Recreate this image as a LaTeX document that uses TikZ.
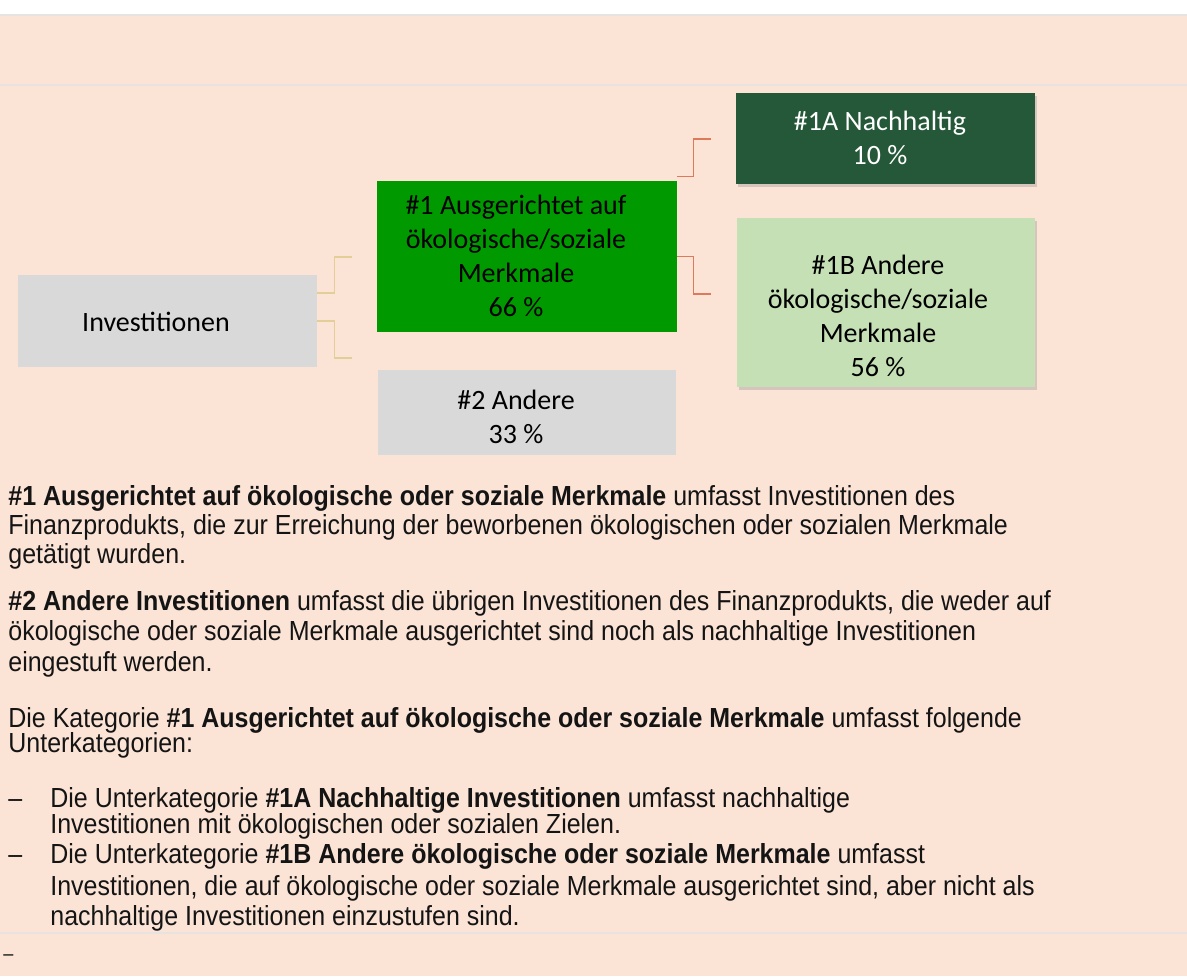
\documentclass[tikz,border=0pt]{standalone}
\usepackage{fontspec}
\setmainfont{Liberation Sans}
\newfontfamily\bodyfont[FakeStretch=0.905]{Liberation Sans}
\newfontfamily\boxfont{Carlito}
\usetikzlibrary{positioning,shadows}

\definecolor{peach}{HTML}{FBE3D6}
\definecolor{sepgray}{HTML}{E6E3E1}
\definecolor{darkgreen}{HTML}{245839}
\definecolor{midgreen}{HTML}{009900}
\definecolor{lightgreen}{HTML}{C5E0B4}
\definecolor{boxgray}{HTML}{D9D9D9}
\definecolor{linkred}{HTML}{DD7A5C}
\definecolor{linktan}{HTML}{E2CF98}
\definecolor{inkblack}{HTML}{141414}

\begin{document}
\begin{tikzpicture}[x=0.5pt,y=-0.5pt,
    box/.style={rectangle,inner sep=0pt,minimum width=150pt},
    shadowbox/.style={box,drop shadow={shadow xshift=1pt,shadow yshift=-1.5pt,opacity=0.3}},
    boxtext/.style={font=\boxfont\fontsize{14}{17}\selectfont,align=center,inner sep=0pt},
    body/.style={font=\bodyfont\fontsize{13.8}{14.5}\selectfont,anchor=base west,inner sep=0pt,text=inkblack},
    tanlink/.style={draw=linktan,line width=0.75pt},
    redlink/.style={draw=linkred,line width=0.75pt},
    sepline/.style={draw=sepgray,line width=1.2pt}]
  \useasboundingbox (0,0) rectangle (1187,976);
  \fill[white] (0,0) rectangle (1187,15);
  \fill[peach] (0,15) rectangle (1187,976);
  \foreach \y in {15,85,933}
    \draw[sepline] (0,\y) -- (1187,\y);

  % boxes
  \node[box,fill=boxgray,minimum width=149.5pt,minimum height=46pt] (inv) at (167.5,321) {};
  \node[box,fill=midgreen,minimum height=75.5pt] (one) at (527,256.5) {};
  \node[box,fill=boxgray,minimum width=149pt,minimum height=42.5pt] (two) at (527,412.5) {};
  \node[shadowbox,fill=darkgreen,minimum width=149.5pt,minimum height=45.5pt] (onea) at (885.5,138.5) {};
  \node[shadowbox,fill=lightgreen,minimum width=149pt,minimum height=84.5pt] (oneb) at (886,302.5) {};

  \node[boxtext] (invtxt) at (156,322) {Investitionen};
  \node[boxtext] (onetxt) at (516,256) {\#1 Ausgerichtet auf\\ökologische/soziale\\Merkmale\\66 \%};
  \node[boxtext] (twotxt) at (516,417) {\#2 Andere\\33 \%};
  \node[boxtext,text=white] (oneatxt) at (880,138) {\#1A Nachhaltig\\10 \%};
  \node[boxtext] (onebtxt) at (878,316) {\#1B Andere\\ökologische/soziale\\Merkmale\\56 \%};

  % connectors
  \coordinate (ta) at (352,257);
  \coordinate (tb) at (352,358);
  \coordinate (ra) at (711,139);
  \coordinate (rb) at (711,294);
  \draw[tanlink] ([yshift=14pt]inv.east) -- ++(17,0) |- (ta);
  \draw[tanlink] (inv.east) -- ++(17,0) |- (tb);
  \draw[redlink] ([yshift=2pt]one.north east) -- ++(16,0) |- (ra);
  \draw[redlink] (one.east) -- ++(16,0) |- (rb);

  % explanation
  \foreach \x/\y/\txt [count=\i] in {
      8/505/{\textbf{\#1 Ausgerichtet auf ökologische oder soziale Merkmale} umfasst Investitionen des},
      8/534/{Finanzprodukts, die zur Erreichung der beworbenen ökologischen oder sozialen Merkmale},
      8/563/{getätigt wurden.},
      8/610/{\textbf{\#2 Andere Investitionen} umfasst die übrigen Investitionen des Finanzprodukts, die weder auf},
      8/640/{ökologische oder soziale Merkmale ausgerichtet sind noch als nachhaltige Investitionen},
      8/671/{eingestuft werden.},
      8/727/{Die Kategorie \textbf{\#1 Ausgerichtet auf ökologische oder soziale Merkmale} umfasst folgende},
      8/752/{Unterkategorien:},
      50/807/{Die Unterkategorie \textbf{\#1A Nachhaltige Investitionen} umfasst nachhaltige},
      50/833/{Investitionen mit ökologischen oder sozialen Zielen.},
      50/863/{Die Unterkategorie \textbf{\#1B Andere ökologische oder soziale Merkmale} umfasst},
      50/895/{Investitionen, die auf ökologische oder soziale Merkmale ausgerichtet sind, aber nicht als},
      50/925/{nachhaltige Investitionen einzustufen sind.}}
    \node[body] (line\i) at (\x,\y) {\txt};
  \node[body] (dasha) at (8,807) {–};
  \node[body] (dashb) at (8,863) {–};
  \node[body,font=\bodyfont\fontsize{10}{12}\selectfont] (dashc) at (3,960) {–};
\end{tikzpicture}
\end{document}
